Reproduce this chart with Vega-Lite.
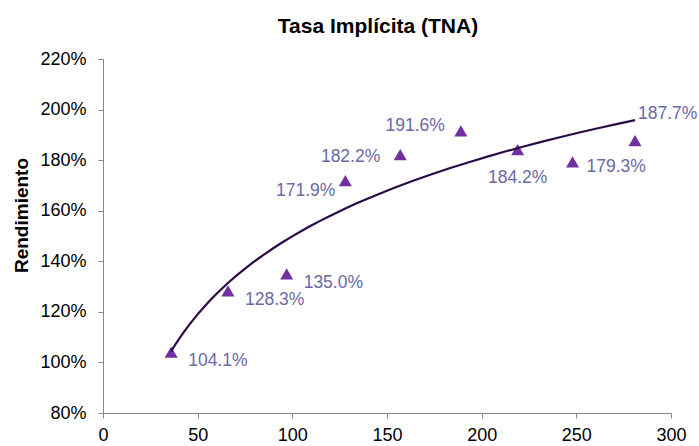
{
  "$schema": "https://vega.github.io/schema/vega-lite/v6.json",
  "width": 568,
  "height": 354,
  "autosize": {"type": "none"},
  "padding": {"left": 103, "top": 59, "right": 28, "bottom": 33},
  "background": "white",
  "title": {
    "text": "Tasa Implícita (TNA)",
    "font": "Liberation Sans",
    "fontSize": 21,
    "fontWeight": "bold",
    "color": "#000000",
    "anchor": "middle",
    "frame": "group",
    "baseline": "alphabetic",
    "offset": 26,
    "dy": 30,
    "dx": -9
  },
  "config": {
    "view": {"stroke": null},
    "font": "Liberation Sans",
    "axis": {
      "grid": false,
      "domainColor": "#868686",
      "tickColor": "#868686",
      "labelFont": "Liberation Sans",
      "labelFontSize": 18,
      "labelColor": "#000000",
      "tickSize": 5,
      "titleFont": "Liberation Sans",
      "titleColor": "#000000"
    }
  },
  "data": {
    "values": [
      {"plazo": 36, "tasa": 1.041},
      {"plazo": 66, "tasa": 1.283},
      {"plazo": 97, "tasa": 1.350},
      {"plazo": 128, "tasa": 1.719},
      {"plazo": 157, "tasa": 1.822},
      {"plazo": 189, "tasa": 1.916},
      {"plazo": 219, "tasa": 1.842},
      {"plazo": 248, "tasa": 1.793},
      {"plazo": 281, "tasa": 1.877}
    ]
  },
  "encoding": {
    "x": {
      "field": "plazo",
      "type": "quantitative",
      "scale": {"domain": [0, 300], "nice": false, "zero": false},
      "axis": {"values": [0, 50, 100, 150, 200, 250, 300], "title": null, "labelPadding": 8, "labelFlush": false}
    },
    "y": {
      "field": "tasa",
      "type": "quantitative",
      "scale": {"domain": [0.8, 2.2], "nice": false, "zero": false},
      "axis": {
        "values": [0.8, 1.0, 1.2, 1.4, 1.6, 1.8, 2.0, 2.2],
        "format": ".0%",
        "labelPadding": 12,
        "title": "Rendimiento",
        "titleFontSize": 19,
        "titleFontWeight": "bold",
        "titleAngle": -90,
        "titleX": -82,
        "titleY": 156,
        "titleAlign": "center",
        "titleBaseline": "middle"
      }
    }
  },
  "layer": [
    {
      "mark": {"type": "point", "shape": "triangle-up", "filled": true, "size": 170, "color": "#7030A0", "opacity": 1}
    },
    {
      "transform": [{"regression": "tasa", "on": "plazo", "method": "log"}],
      "mark": {"type": "line", "color": "#2B0B45", "strokeWidth": 2.2}
    },
    {
      "transform": [{"filter": "datum.plazo == 36 || datum.plazo == 66 || datum.plazo == 97"}],
      "mark": {"type": "text", "align": "left", "baseline": "middle", "dx": 17, "dy": 9, "fontSize": 17.5, "color": "#6B68A8"},
      "encoding": {"text": {"field": "tasa", "type": "quantitative", "format": ".1%"}}
    },
    {
      "transform": [{"filter": "datum.plazo == 128"}],
      "mark": {"type": "text", "align": "right", "baseline": "middle", "dx": -10, "dy": 10, "fontSize": 17.5, "color": "#6B68A8"},
      "encoding": {"text": {"field": "tasa", "type": "quantitative", "format": ".1%"}}
    },
    {
      "transform": [{"filter": "datum.plazo == 157"}],
      "mark": {"type": "text", "align": "right", "baseline": "middle", "dx": -20, "dy": 2, "fontSize": 17.5, "color": "#6B68A8"},
      "encoding": {"text": {"field": "tasa", "type": "quantitative", "format": ".1%"}}
    },
    {
      "transform": [{"filter": "datum.plazo == 189"}],
      "mark": {"type": "text", "align": "right", "baseline": "middle", "dx": -16, "dy": -5, "fontSize": 17.5, "color": "#6B68A8"},
      "encoding": {"text": {"field": "tasa", "type": "quantitative", "format": ".1%"}}
    },
    {
      "transform": [{"filter": "datum.plazo == 219"}],
      "mark": {"type": "text", "align": "center", "baseline": "middle", "dx": 0, "dy": 28, "fontSize": 17.5, "color": "#6B68A8"},
      "encoding": {"text": {"field": "tasa", "type": "quantitative", "format": ".1%"}}
    },
    {
      "transform": [{"filter": "datum.plazo == 248"}],
      "mark": {"type": "text", "align": "left", "baseline": "middle", "dx": 14, "dy": 5, "fontSize": 17.5, "color": "#6B68A8"},
      "encoding": {"text": {"field": "tasa", "type": "quantitative", "format": ".1%"}}
    },
    {
      "transform": [{"filter": "datum.plazo == 281"}],
      "mark": {"type": "text", "align": "left", "baseline": "middle", "dx": 3, "dy": -27, "fontSize": 17.5, "color": "#6B68A8"},
      "encoding": {"text": {"field": "tasa", "type": "quantitative", "format": ".1%"}}
    }
  ]
}
